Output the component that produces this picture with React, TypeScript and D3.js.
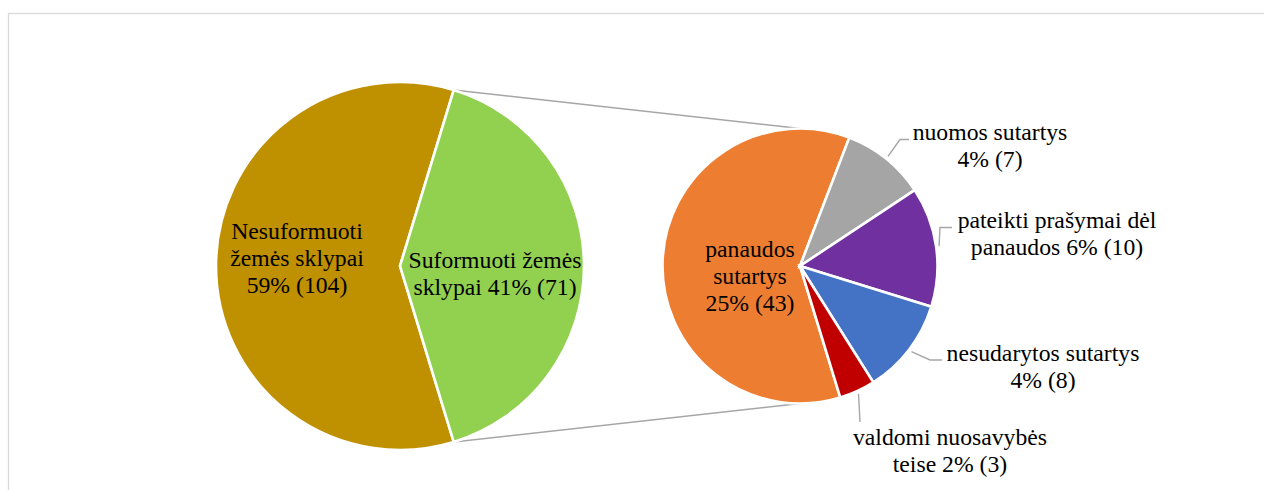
import React from "react";
import * as d3 from "d3";

const mainCategories = ["Nesuformuoti žemės sklypai", "Suformuoti žemės sklypai"];
const mainValues = [104, 71];
const mainPercents = ["59%", "41%"];
const mainColors = ["#BF9000", "#92D050"];

const subCategories = [
  "panaudos sutartys",
  "nuomos sutartys",
  "pateikti prašymai dėl panaudos",
  "nesudarytos sutartys",
  "valdomi nuosavybės teise",
];
const subValues = [43, 7, 10, 8, 3];
const subPercents = ["25%", "4%", "6%", "4%", "2%"];
const subColors = ["#ED7D31", "#A5A5A5", "#7030A0", "#4472C4", "#C00000"];

// layout
const W = 1264;
const H = 490;
const C1 = { x: 400, y: 266, r: 184 };
const C2 = { x: 800, y: 266, r: 137.5 };
const FONT = "'Liberation Serif', 'Times New Roman', serif";
const FS = 23.7;
const LH = 27.3;

const mainLabelLayout = [
  { x: 297, y: 238.5, lines: ["Nesuformuoti", "žemės sklypai", "59% (104)"] },
  { x: 495, y: 268, lines: ["Suformuoti žemės", "sklypai 41% (71)"] },
];

const subLabelLayout: { x: number; y: number; lines: string[]; elbow?: number[]; end?: number[] }[] = [
  { x: 750, y: 256.5, lines: ["panaudos", "sutartys", "25% (43)"] },
  { x: 990, y: 140, lines: ["nuomos sutartys", "4% (7)"], elbow: [900, 139.5], end: [909, 139.5] },
  { x: 1057, y: 228, lines: ["pateikti prašymai dėl", "panaudos 6% (10)"], elbow: [940, 227.5], end: [952, 227.5] },
  { x: 1043, y: 361, lines: ["nesudarytos sutartys", "4% (8)"], elbow: [930, 360], end: [942, 360] },
  { x: 950, y: 445, lines: ["valdomi nuosavybės", "teise 2% (3)"], elbow: [860, 422] },
];

const pt = (cx: number, cy: number, r: number, a: number) => [cx + r * Math.sin(a), cy - r * Math.cos(a)];

export default function App() {
  const total1 = d3.sum(mainValues);
  const greenAngle = (mainValues[1] / total1) * 2 * Math.PI;
  const start1 = Math.PI / 2 + greenAngle / 2;
  const pie1 = d3.pie<number>().sort(null).startAngle(start1).endAngle(start1 + 2 * Math.PI);
  const arcs1 = pie1(mainValues);
  const arc1 = d3.arc<d3.PieArcDatum<number>>().innerRadius(0).outerRadius(C1.r);

  const total2 = d3.sum(subValues);
  const orangeAngle = (subValues[0] / total2) * 2 * Math.PI;
  const start2 = (3 * Math.PI) / 2 - orangeAngle / 2 + (2 * Math.PI) / 180;
  const pie2 = d3.pie<number>().sort(null).startAngle(start2).endAngle(start2 + 2 * Math.PI);
  const arcs2 = pie2(subValues);
  const arc2 = d3.arc<d3.PieArcDatum<number>>().innerRadius(0).outerRadius(C2.r);

  const g = arcs1[1];
  const pTop = pt(C1.x, C1.y, C1.r, g.startAngle);
  const pBot = pt(C1.x, C1.y, C1.r, g.endAngle);

  const renderLines = (x: number, y: number, lines: string[]) => (
    <text x={x} y={y} textAnchor="middle" fontFamily={FONT} fontSize={FS} fill="#000">
      {lines.map((l, i) => (
        <tspan key={i} x={x} y={y + i * LH}>
          {l}
        </tspan>
      ))}
    </text>
  );

  return (
    <svg width={W} height={H} style={{ position: "absolute", left: 0, top: 0 }}>
      <rect x={0} y={0} width={W} height={H} fill="#fff" />
      <rect x={8.5} y={13.5} width={W + 20} height={H + 20} fill="none" stroke="#d9d9d9" strokeWidth={1.3} />
      {/* connectors */}
      <line x1={pTop[0]} y1={pTop[1]} x2={C2.x} y2={C2.y - C2.r} stroke="#a6a6a6" strokeWidth={1.5} />
      <line x1={pBot[0]} y1={pBot[1]} x2={C2.x} y2={C2.y + C2.r} stroke="#a6a6a6" strokeWidth={1.5} />
      <g transform={`translate(${C1.x},${C1.y})`}>
        {arcs1.map((a, i) => (
          <path key={mainCategories[i]} d={arc1(a) || ""} fill={mainColors[i]} stroke="#fff" strokeWidth={2.6} strokeLinejoin="miter" />
        ))}
      </g>
      <g transform={`translate(${C2.x},${C2.y})`}>
        {arcs2.map((a, i) => (
          <path key={subCategories[i]} d={arc2(a) || ""} fill={subColors[i]} stroke="#fff" strokeWidth={2.6} strokeLinejoin="miter" />
        ))}
      </g>
      {/* leader lines */}
      {arcs2.map((a, i) => {
        const L = subLabelLayout[i];
        if (!L.elbow) return null;
        const mid = (a.startAngle + a.endAngle) / 2;
        const s = pt(C2.x, C2.y, C2.r + 3, mid);
        const pts = [s, L.elbow];
        if (L.end) pts.push(L.end);
        return (
          <path
            key={"ll" + i}
            d={d3.line()(pts as [number, number][]) || ""}
            fill="none"
            stroke="#a6a6a6"
            strokeWidth={1.4}
          />
        );
      })}
      {mainLabelLayout.map((L, i) => (
        <g key={"ml" + i}>{renderLines(L.x, L.y, L.lines)}</g>
      ))}
      {subLabelLayout.map((L, i) => (
        <g key={"sl" + i}>{renderLines(L.x, L.y, L.lines)}</g>
      ))}
    </svg>
  );
}
